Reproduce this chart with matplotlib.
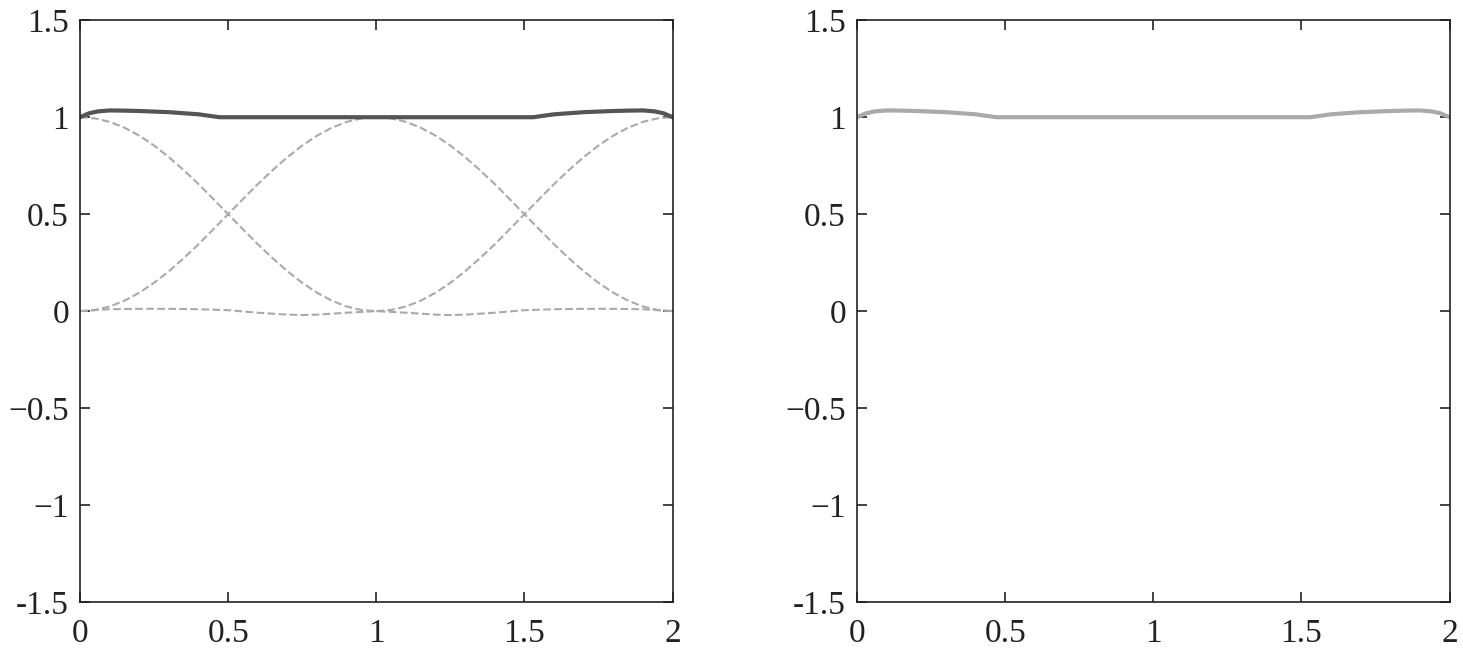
import matplotlib
matplotlib.use("Agg")
import matplotlib.pyplot as plt

x_a = [0, 0.05, 0.1, 0.15, 0.2, 0.25, 0.3, 0.35, 0.4, 0.45, 0.5, 0.55, 0.6, 0.65, 0.7, 0.75, 0.8, 0.85, 0.9, 0.95, 1.0]
y_a = [1, 0.994, 0.976, 0.946, 0.905, 0.854, 0.794, 0.727, 0.655, 0.578, 0.5, 0.422, 0.345, 0.273, 0.206, 0.146, 0.095, 0.054, 0.024, 0.006, 0]
x_b = x_a + [1.05, 1.1, 1.15, 1.2, 1.25, 1.3, 1.35, 1.4, 1.45, 1.5, 1.55, 1.6, 1.65, 1.7, 1.75, 1.8, 1.85, 1.9, 1.95, 2.0]
y_b = [0, 0.006, 0.024, 0.054, 0.095, 0.146, 0.206, 0.273, 0.345, 0.422, 0.5, 0.578, 0.655, 0.727, 0.794, 0.854, 0.905, 0.946, 0.976, 0.994, 1,
       0.994, 0.976, 0.946, 0.905, 0.854, 0.794, 0.727, 0.655, 0.578, 0.5, 0.422, 0.345, 0.273, 0.206, 0.146, 0.095, 0.054, 0.024, 0.006, 0]
x_c = [1.0, 1.05, 1.1, 1.15, 1.2, 1.25, 1.3, 1.35, 1.4, 1.45, 1.5, 1.55, 1.6, 1.65, 1.7, 1.75, 1.8, 1.85, 1.9, 1.95, 2.0]
y_c = [0, 0.006, 0.024, 0.054, 0.095, 0.146, 0.206, 0.273, 0.345, 0.422, 0.5, 0.578, 0.655, 0.727, 0.794, 0.854, 0.905, 0.946, 0.976, 0.994, 1]
x_d = [0, 0.1, 0.2, 0.3, 0.4, 0.5, 0.6, 0.7, 0.75, 0.8, 0.9, 1.0, 1.1, 1.2, 1.25, 1.3, 1.4, 1.5, 1.6, 1.7, 1.8, 1.9, 2.0]
y_d = [0, 0.01, 0.012, 0.012, 0.01, 0.005, -0.008, -0.018, -0.02, -0.018, -0.008, 0, -0.008, -0.018, -0.02, -0.018, -0.008, 0.005, 0.01, 0.012, 0.012, 0.01, 0]
x_s = [0, 0.03, 0.06, 0.1, 0.15, 0.2, 0.3, 0.4, 0.47, 1.0, 1.53, 1.6, 1.7, 1.8, 1.85, 1.9, 1.94, 1.97, 2.0]
y_s = [1, 1.02, 1.03, 1.035, 1.034, 1.032, 1.026, 1.015, 1.0, 1.0, 1.0, 1.015, 1.026, 1.032, 1.034, 1.035, 1.03, 1.02, 1]

xticks = [0, 0.5, 1, 1.5, 2]
xlabels = ["0", "0.5", "1", "1.5", "2"]
yticks = [-1.5, -1, -0.5, 0, 0.5, 1, 1.5]
ylabels = ["-1.5", "\u22121", "\u22120.5", "0", "0.5", "1", "1.5"]

plt.rcParams['font.family'] = ['Liberation Serif', 'DejaVu Serif']
fig = plt.figure(figsize=(14.63, 6.53), dpi=100)
ax1 = fig.add_axes([0.0547, 0.078, 0.405, 0.891])
ax2 = fig.add_axes([0.5858, 0.078, 0.405, 0.891])

dash = dict(color='#aaaaaa', ls='--', lw=1.5)
for xx, yy in [(x_a, y_a), (x_b, y_b), (x_c, y_c), (x_d, y_d)]:
    ax1.plot(xx, yy, **dash)
ax1.plot(x_s, y_s, color='#555555', lw=3)
ax2.plot(x_s, y_s, color='#aaaaaa', lw=3)

for ax in (ax1, ax2):
    ax.set_xlim(0, 2)
    ax.set_ylim(-1.5, 1.5)
    ax.set_xticks(xticks, xlabels)
    ax.set_yticks(yticks, ylabels)
    ax.tick_params(direction='in', top=True, right=True, labelsize=24, length=7, width=1.2, colors='#222222')
    ax.tick_params(axis='x', pad=12)
    ax.tick_params(axis='y', pad=8)
    for s in ax.spines.values():
        s.set_linewidth(1.2)
        s.set_color('#222222')

fig.savefig('out.png', dpi=100)
